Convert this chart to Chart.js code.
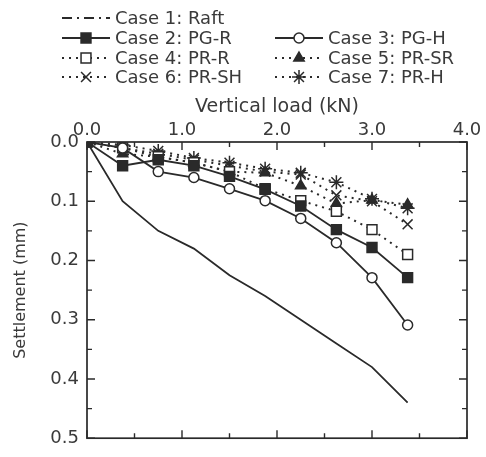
<!DOCTYPE html>
<html>
<head>
<meta charset="utf-8">
<script src="https://cdn.jsdelivr.net/npm/chart.js@4/dist/chart.umd.min.js"></script>
<style>
  html, body { margin: 0; padding: 0; background: #fff; }
  canvas { display: block; }
</style>
</head>
<body>
<canvas id="c" width="486" height="457"></canvas>
<script>
// vertical load steps (kN)
const loads = [0, 0.375, 0.75, 1.125, 1.5, 1.875, 2.25, 2.625, 3.0, 3.375];

// settlement (mm) per case
const raft = [0, 0.10, 0.15, 0.18, 0.225, 0.26, 0.30, 0.34, 0.38, 0.44];
const pgR  = [0, 0.04, 0.03, 0.04, 0.058, 0.08, 0.108, 0.148, 0.178, 0.229];
const pgH  = [0, 0.01, 0.05, 0.06, 0.079, 0.099, 0.129, 0.17, 0.229, 0.309];
const prR  = [0, 0.01, 0.025, 0.035, 0.05, 0.079, 0.099, 0.117, 0.148, 0.19];
const prSR = [0, 0.02, 0.025, 0.035, 0.05, 0.052, 0.074, 0.104, 0.098, 0.106];
const prSH = [0, 0.01, 0.02, 0.03, 0.04, 0.05, 0.055, 0.09, 0.10, 0.139];
const prH  = [0, 0.005, 0.015, 0.027, 0.035, 0.045, 0.052, 0.068, 0.096, 0.112];

const caseLabels = [
  'Case 1: Raft', 'Case 2: PG-R', 'Case 3: PG-H', 'Case 4: PR-R',
  'Case 5: PR-SR', 'Case 6: PR-SH', 'Case 7: PR-H'
];

const xTickValues = [0, 1, 2, 3, 4];
const yTickValues = [0, 0.1, 0.2, 0.3, 0.4, 0.5];

const FONT = '"DejaVu Sans", Arial, sans-serif';
const INK = '#2a2a2a';
const TEXT = '#3a3a3a';

const pts = (ys) => loads.map((x, i) => ({ x, y: ys[i] }));

function series(label, ys, style) {
  return Object.assign({
    label,
    data: pts(ys),
    borderColor: INK,
    backgroundColor: INK,
    pointBorderColor: INK,
    borderWidth: 1.8,
    pointBorderWidth: 1.5,
    pointRadius: 5,
    tension: 0,
    fill: false
  }, style);
}

const dotted = [2, 5];

const datasets = [
  series(caseLabels[0], raft, { pointRadius: 0, legendDash: [10, 5, 2, 5] }),
  series(caseLabels[1], pgR, { pointStyle: 'rect', pointRadius: 7, pointBackgroundColor: INK }),
  series(caseLabels[2], pgH, { pointStyle: 'circle', pointBackgroundColor: '#fff' }),
  series(caseLabels[3], prR, { pointStyle: 'rect', pointRadius: 7, pointBackgroundColor: '#fff', borderDash: dotted, borderWidth: 2 }),
  series(caseLabels[4], prSR, { pointStyle: 'triangle', pointRadius: 6, pointBackgroundColor: INK, borderDash: dotted, borderWidth: 2 }),
  series(caseLabels[5], prSH, { pointStyle: 'crossRot', pointRadius: 7, borderDash: dotted, borderWidth: 2 }),
  series(caseLabels[6], prH, { pointStyle: 'star', pointRadius: 7, borderDash: dotted, borderWidth: 2 })
];

// legend slots: [column x of line sample start, row y]
const legendSlots = [
  [62, 18], [62, 38], [275, 38], [62, 58], [275, 58], [62, 77], [275, 77]
];

function drawMarker(ctx, ds, x, y) {
  if (!ds.pointRadius) return;
  ctx.save();
  ctx.setLineDash([]);
  ctx.lineWidth = ds.pointBorderWidth;
  ctx.strokeStyle = ds.pointBorderColor;
  ctx.fillStyle = ds.pointBackgroundColor || '#fff';
  if (Chart.helpers && Chart.helpers.drawPoint) {
    Chart.helpers.drawPoint(ctx, {
      pointStyle: ds.pointStyle, radius: ds.pointRadius, rotation: 0,
      borderWidth: ds.pointBorderWidth
    }, x, y);
  }
  ctx.restore();
}

const legendPlugin = {
  id: 'caseLegend',
  afterDraw(chart) {
    const ctx = chart.ctx;
    ctx.save();
    chart.data.datasets.forEach((ds, i) => {
      const [lx, ly] = legendSlots[i];
      ctx.strokeStyle = INK;
      ctx.lineWidth = ds.borderDash ? 2 : 1.8;
      ctx.setLineDash(ds.legendDash || ds.borderDash || []);
      ctx.beginPath();
      ctx.moveTo(lx, ly);
      ctx.lineTo(lx + 48, ly);
      ctx.stroke();
      drawMarker(ctx, ds, lx + 24, ly);
      ctx.setLineDash([]);
      ctx.fillStyle = TEXT;
      ctx.font = `18px ${FONT}`;
      ctx.textAlign = 'left';
      ctx.textBaseline = 'middle';
      ctx.fillText(ds.label, lx + 53, ly + 1);
    });
    ctx.restore();
  }
};

// frame around the plot with inward major/minor ticks on all four sides
const framePlugin = {
  id: 'frameTicks',
  afterDraw(chart) {
    const { ctx, chartArea: a, scales } = chart;
    ctx.save();
    ctx.strokeStyle = INK;
    ctx.lineWidth = 1.7;
    ctx.setLineDash([]);
    ctx.strokeRect(a.left, a.top, a.right - a.left, a.bottom - a.top);
    ctx.lineWidth = 1.4;
    ctx.beginPath();
    for (let k = 0; k <= 8; k++) {
      const v = k * 0.5;
      const px = scales.x.getPixelForValue(v);
      const len = k % 2 === 0 ? 8 : 5;
      ctx.moveTo(px, a.top); ctx.lineTo(px, a.top + len);
      ctx.moveTo(px, a.bottom); ctx.lineTo(px, a.bottom - len);
    }
    for (let k = 0; k <= 10; k++) {
      const v = k * 0.05;
      const py = scales.y.getPixelForValue(v);
      const len = k % 2 === 0 ? 8 : 5;
      ctx.moveTo(a.left, py); ctx.lineTo(a.left + len, py);
      ctx.moveTo(a.right, py); ctx.lineTo(a.right - len, py);
    }
    ctx.stroke();
    ctx.restore();
  }
};

new Chart(document.getElementById('c').getContext('2d'), {
  type: 'line',
  data: { datasets },
  options: {
    responsive: false,
    animation: false,
    devicePixelRatio: 1,
    layout: { padding: { top: 88, right: 19, bottom: 13, left: 0 } },
    plugins: { legend: { display: false }, tooltip: { enabled: false } },
    scales: {
      x: {
        type: 'linear',
        position: 'top',
        min: 0, max: 4,
        afterBuildTicks(scale) { scale.ticks = xTickValues.map((value) => ({ value })); },
        afterFit(scale) { scale.height = 54; },
        ticks: { callback: (v) => Number(v).toFixed(1), color: TEXT, font: { family: FONT, size: 18 }, padding: 1, maxRotation: 0 },
        grid: { display: false, drawTicks: false },
        border: { display: false },
        title: { display: true, text: 'Vertical load (kN)', color: TEXT, font: { family: FONT, size: 19 }, padding: { top: 8, bottom: 0 } }
      },
      y: {
        type: 'linear',
        reverse: true,
        min: 0, max: 0.5,
        afterBuildTicks(scale) { scale.ticks = yTickValues.map((value) => ({ value })); },
        afterFit(scale) { scale.width = 87; },
        ticks: { callback: (v) => Number(v).toFixed(1), color: TEXT, font: { family: FONT, size: 18 }, padding: 8 },
        grid: { display: false, drawTicks: false },
        border: { display: false },
        title: { display: true, text: 'Settlement (mm)', color: TEXT, font: { family: FONT, size: 16 }, padding: { top: 11, bottom: 0 } }
      }
    }
  },
  plugins: [framePlugin, legendPlugin]
});
</script>
</body>
</html>
